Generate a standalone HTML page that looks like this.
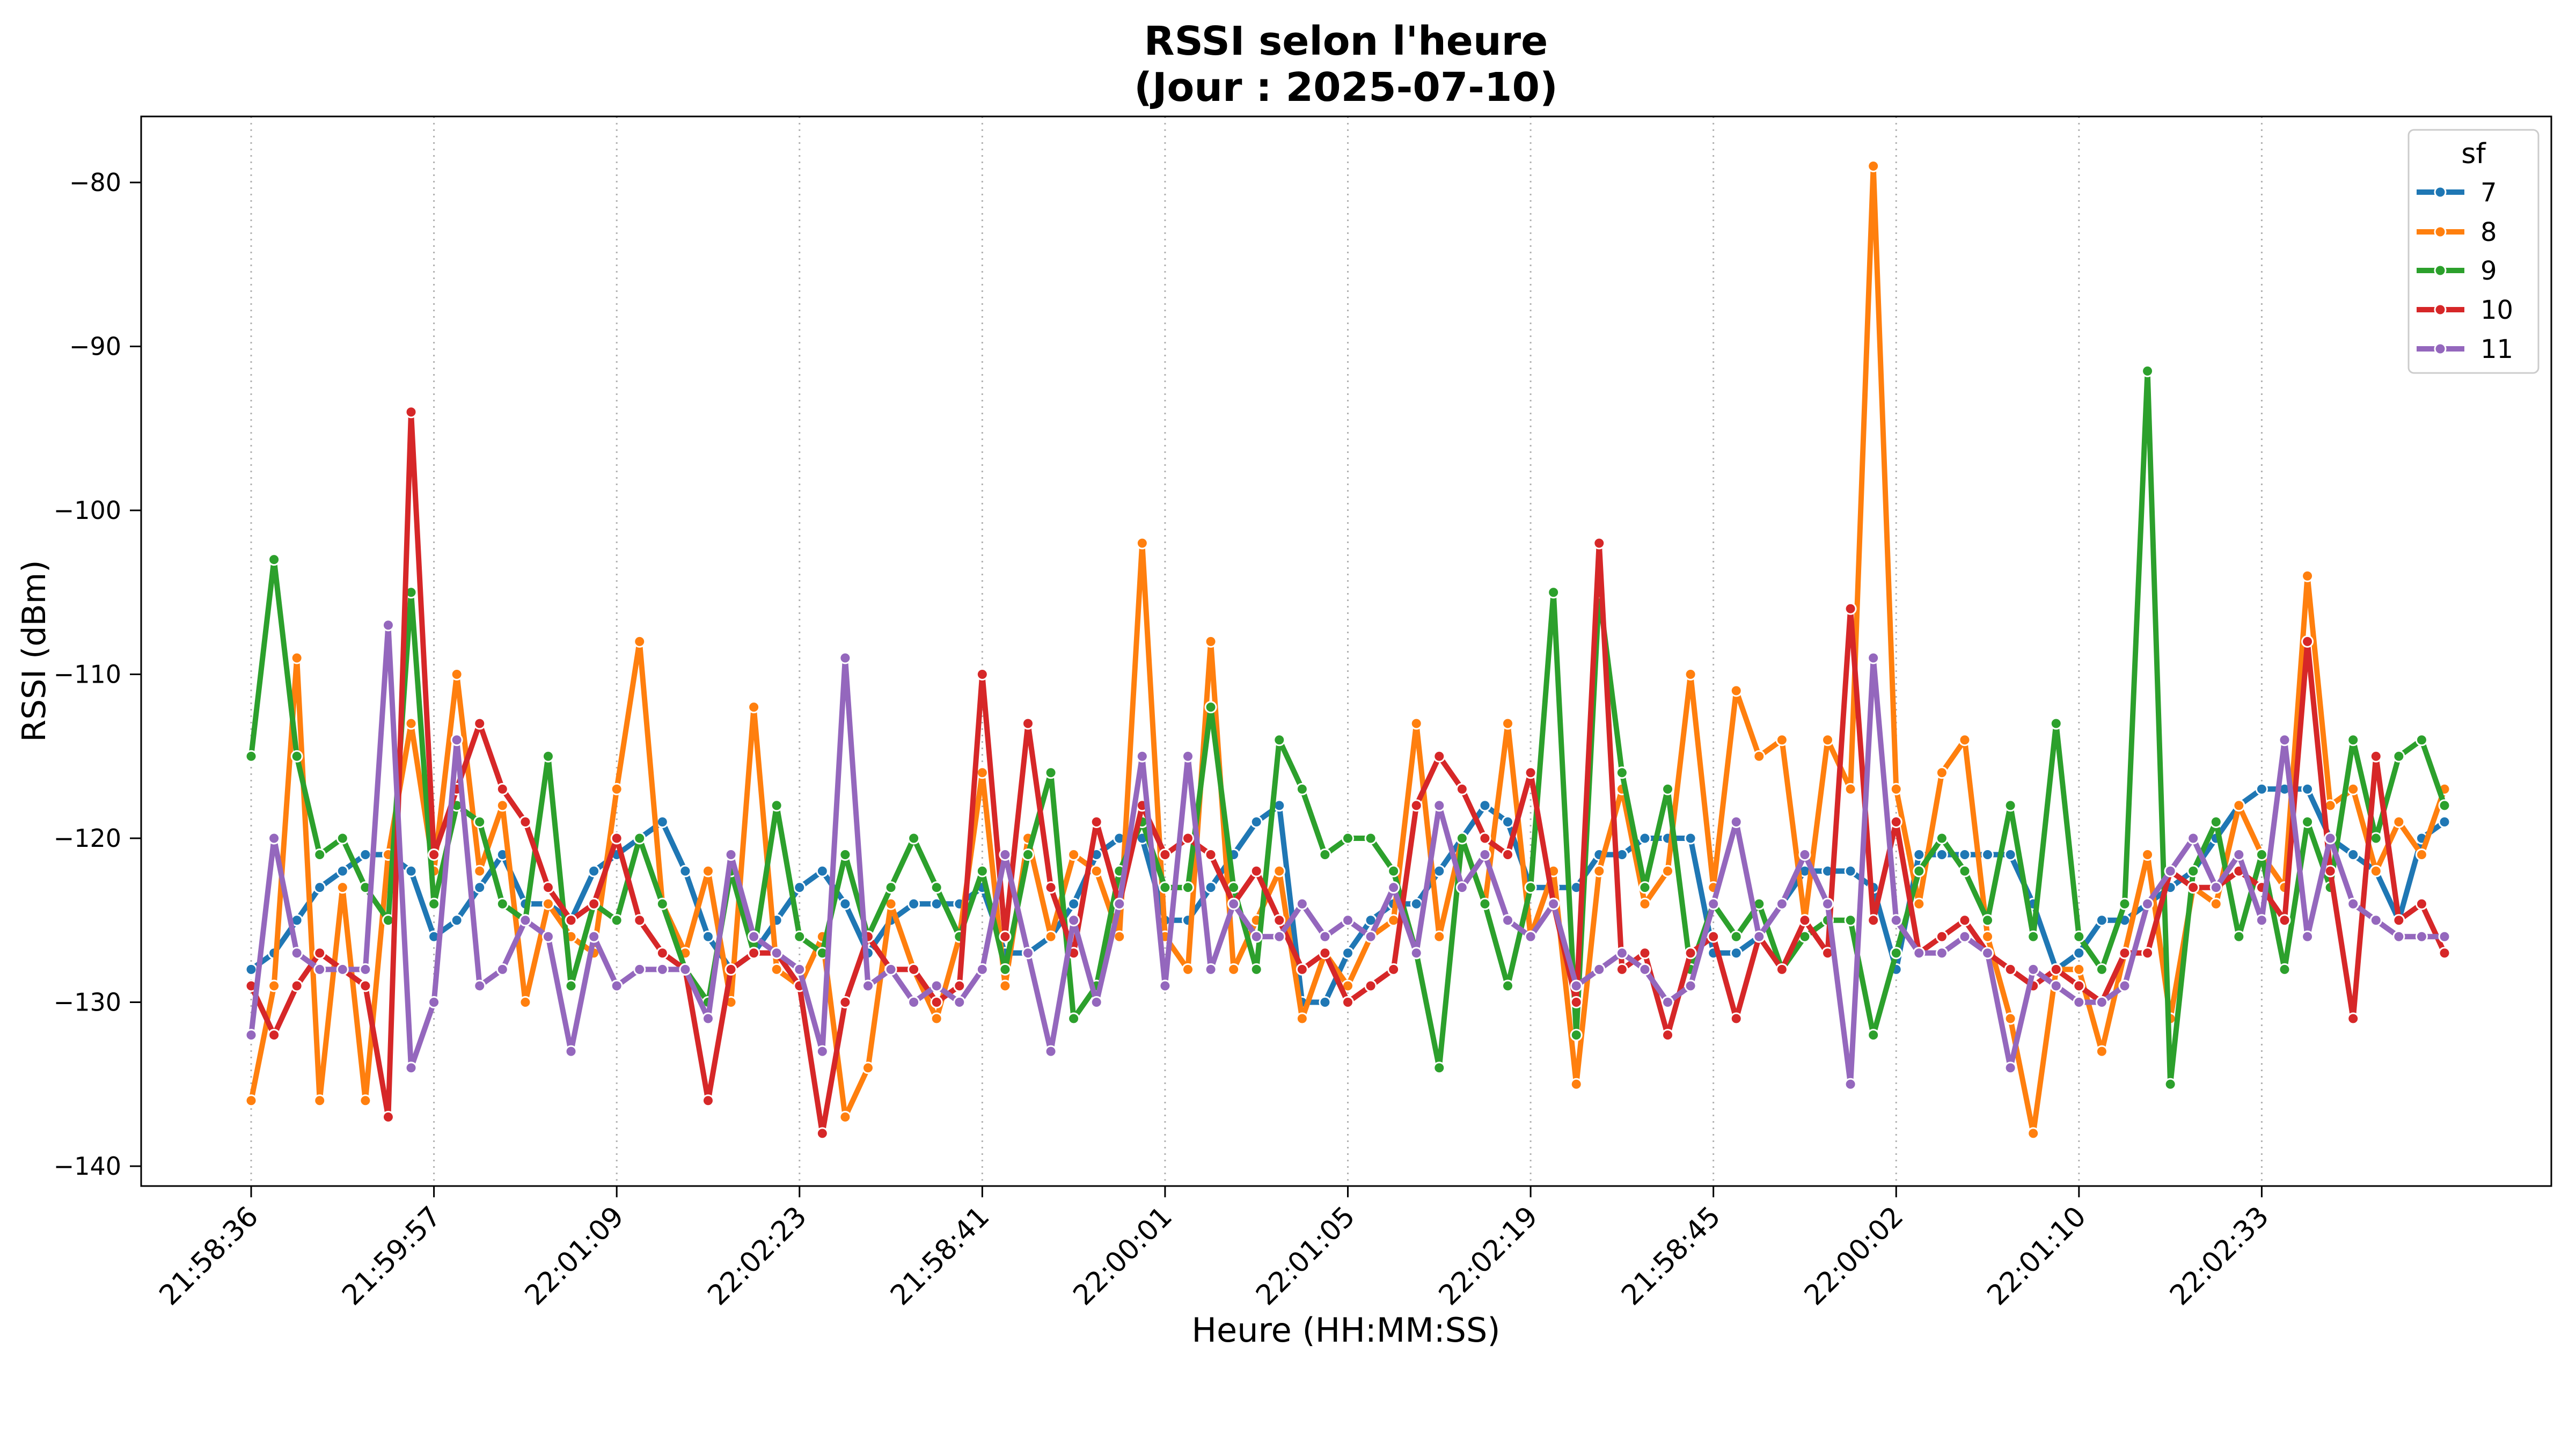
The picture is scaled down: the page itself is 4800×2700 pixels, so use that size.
<!DOCTYPE html>
<html><head><meta charset="utf-8"><style>
html,body{margin:0;padding:0;background:#fff}
svg{display:block;font-family:"DejaVu Sans","Liberation Sans",sans-serif}
</style></head><body>
<svg id="chart" width="4800" height="2700" viewBox="0 0 4800 2700" xmlns="http://www.w3.org/2000/svg">
<rect width="4800" height="2700" fill="#fff"/>
<text x="2508" y="102" font-size="74" font-weight="bold" text-anchor="middle">RSSI selon l'heure</text>
<text x="2508" y="188" font-size="74" font-weight="bold" text-anchor="middle">(Jour : 2025-07-10)</text>
<g id="grid"></g>
<g id="series"></g>
<rect x="263" y="217" width="4491" height="1993" fill="none" stroke="#000" stroke-width="3"/>
<g id="axes"></g>
<text transform="translate(84,1213) rotate(-90)" font-size="60" text-anchor="middle">RSSI (dBm)</text>
<text x="2508" y="2500" font-size="62" text-anchor="middle">Heure (HH:MM:SS)</text>
<g id="legend">
<rect x="4488" y="242" width="242" height="453" rx="10" fill="#fff" fill-opacity="0.8" stroke="#ccc" stroke-width="3"/>
<text x="4609" y="304" font-size="52" text-anchor="middle">sf</text>
</g>
</svg>
<script>
const xTickLabels = ["21:58:36","21:59:57","22:01:09","22:02:23","21:58:41","22:00:01","22:01:05","22:02:19","21:58:45","22:00:02","22:01:10","22:02:33"];
const yTicks = [-80,-90,-100,-110,-120,-130,-140];
const seriesNames = ["7","8","9","10","11"];
const seriesColors = ["#1f77b4","#ff7f0e","#2ca02c","#d62728","#9467bd"];
const sf7 = [-128,-127,-125,-123,-122,-121,-121,-122,-126,-125,-123,-121,-124,-124,-125,-122,-121,-120,-119,-122,-126,-128,-127,-125,-123,-122,-124,-127,-125,-124,-124,-124,-123,-127,-127,-126,-124,-121,-120,-120,-125,-125,-123,-121,-119,-118,-130,-130,-127,-125,-124,-124,-122,-120,-118,-119,-123,-123,-123,-121,-121,-120,-120,-120,-127,-127,-126,-124,-122,-122,-122,-123,-128,-121,-121,-121,-121,-121,-124,-128,-127,-125,-125,-124,-123,-122,-120,-118,-117,-117,-117,-120,-121,-122,-125,-120,-119];
const sf8 = [-136,-129,-109,-136,-123,-136,-121,-113,-122,-110,-122,-118,-130,-124,-126,-127,-117,-108,-124,-127,-122,-130,-112,-128,-129,-126,-137,-134,-124,-128,-131,-126,-116,-129,-120,-126,-121,-122,-126,-102,-126,-128,-108,-128,-125,-122,-131,-127,-129,-126,-125,-113,-126,-120,-124,-113,-126,-122,-135,-122,-117,-124,-122,-110,-123,-111,-115,-114,-125,-114,-117,-79,-117,-124,-116,-114,-126,-131,-138,-128,-128,-133,-127,-121,-131,-123,-124,-118,-121,-123,-104,-118,-117,-122,-119,-121,-117];
const sf9 = [-115,-103,-115,-121,-120,-123,-125,-105,-124,-118,-119,-124,-125,-115,-129,-124,-125,-120,-124,-128,-130,-122,-127,-118,-126,-127,-121,-126,-123,-120,-123,-126,-122,-128,-121,-116,-131,-129,-122,-119,-123,-123,-112,-123,-128,-114,-117,-121,-120,-120,-122,-127,-134,-120,-124,-129,-123,-105,-132,-105,-116,-123,-117,-128,-124,-126,-124,-128,-126,-125,-125,-132,-127,-122,-120,-122,-125,-118,-126,-113,-126,-128,-124,-91.5,-135,-122,-119,-126,-121,-128,-119,-123,-114,-120,-115,-114,-118];
const sf10 = [-129,-132,-129,-127,-128,-129,-137,-94,-121,-117,-113,-117,-119,-123,-125,-124,-120,-125,-127,-128,-136,-128,-127,-127,-129,-138,-130,-126,-128,-128,-130,-129,-110,-126,-113,-123,-127,-119,-124,-118,-121,-120,-121,-124,-122,-125,-128,-127,-130,-129,-128,-118,-115,-117,-120,-121,-116,-124,-130,-102,-128,-127,-132,-127,-126,-131,-126,-128,-125,-127,-106,-125,-119,-127,-126,-125,-127,-128,-129,-128,-129,-130,-127,-127,-122,-123,-123,-122,-123,-125,-108,-122,-131,-115,-125,-124,-127];
const sf11 = [-132,-120,-127,-128,-128,-128,-107,-134,-130,-114,-129,-128,-125,-126,-133,-126,-129,-128,-128,-128,-131,-121,-126,-127,-128,-133,-109,-129,-128,-130,-129,-130,-128,-121,-127,-133,-125,-130,-124,-115,-129,-115,-128,-124,-126,-126,-124,-126,-125,-126,-123,-127,-118,-123,-121,-125,-126,-124,-129,-128,-127,-128,-130,-129,-124,-119,-126,-124,-121,-124,-135,-109,-125,-127,-127,-126,-127,-134,-128,-129,-130,-130,-129,-124,-122,-120,-123,-121,-125,-114,-126,-120,-124,-125,-126,-126,-126];
const allSeries = [sf7, sf8, sf9, sf10, sf11];

const NS = "http://www.w3.org/2000/svg";
const N = sf7.length;
function xPos(i){ return 468 + i * (4555 - 468) / (N - 1); }
function yPos(v){ return 340 + (-80 - v) * (2173 - 340) / 60; }
function mk(tag, attrs, parent){ const e = document.createElementNS(NS, tag); for (const k in attrs) e.setAttribute(k, attrs[k]); parent.appendChild(e); return e; }

const grid = document.getElementById("grid");
const axes = document.getElementById("axes");
const step = (N - 1) / 12;
xTickLabels.forEach((lab, k) => {
  const x = xPos(k * step);
  const g = mk("line", {x1:x, x2:x, y1:217, y2:2210, stroke:"#b0b0b0", "stroke-width":3, "stroke-dasharray":"3 9"}, grid);
  
  
  const t = mk("line", {x1:x, x2:x, y1:2210, y2:2231, stroke:"#000", "stroke-width":3}, axes);
  
  
  const tx = mk("text", {transform:"translate(" + (x + 16) + ",2270) rotate(-45)", "font-size":52, "text-anchor":"end"}, axes);
  tx.textContent = lab;
  
  
});
yTicks.forEach(v => {
  const y = yPos(v);
  const t = mk("line", {x1:242, x2:263, y1:y, y2:y, stroke:"#000", "stroke-width":3}, axes);
  
  
  const tx = mk("text", {x:226, y:y + 16, "font-size":46, "text-anchor":"end"}, axes);
  tx.textContent = "\u2212" + Math.abs(v);
  
  
});

const sg = document.getElementById("series");
allSeries.forEach((data, s) => {
  const g = mk("g", {}, sg);
  
  
  const pts = data.map((v, i) => xPos(i).toFixed(1) + "," + yPos(v).toFixed(1)).join(" ");
  const pl = mk("polyline", {points:pts, fill:"none", stroke:seriesColors[s], "stroke-width":10, "stroke-linejoin":"round"}, g);
  
  
  data.forEach((v, i) => {
    const c = mk("circle", {cx:xPos(i), cy:yPos(v), r:10, fill:seriesColors[s], stroke:"#fff", "stroke-width":3}, g);
    
    
  });
});

const lg = document.getElementById("legend");
const legendY = [358, 432, 504, 577, 650];
seriesNames.forEach((n, s) => {
  const y = legendY[s];
  const l = mk("line", {x1:4503, x2:4592, y1:y, y2:y, stroke:seriesColors[s], "stroke-width":10}, lg);
  
  
  const c = mk("circle", {cx:4547, cy:y, r:10, fill:seriesColors[s], stroke:"#fff", "stroke-width":3}, lg);
  
  
  const t = mk("text", {x:4622, y:y + 17, "font-size":48}, lg);
  t.textContent = n;
  
  
});
</script>
</body></html>
